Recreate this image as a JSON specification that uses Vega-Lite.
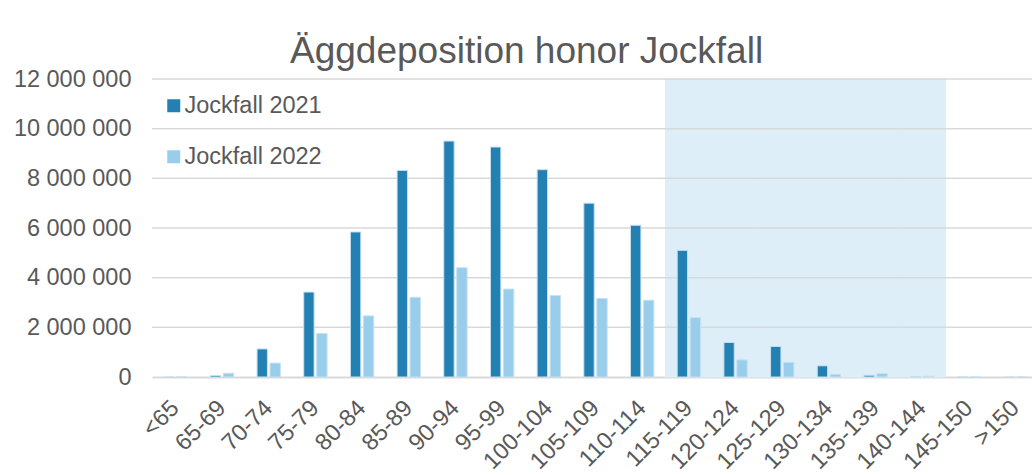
{
  "$schema": "https://vega.github.io/schema/vega-lite/v6.json",
  "width": 887,
  "height": 298,
  "padding": {"left": 13, "top": 33, "right": 0, "bottom": 0},
  "autosize": {"type": "pad"},
  "background": "white",
  "title": {
    "text": "Äggdeposition honor Jockfall",
    "fontSize": 37,
    "font": "Liberation Sans",
    "fontWeight": "normal",
    "color": "#595959",
    "anchor": "middle",
    "frame": "bounds",
    "offset": -4
  },
  "config": {
    "view": {"stroke": null},
    "font": "Liberation Sans",
    "axisX": {
      "title": null,
      "labelAngle": -45,
      "labelAlign": "right",
      "labelBaseline": "middle",
      "labelFontSize": 23.5,
      "labelFont": "Liberation Sans",
      "labelColor": "#595959",
      "labelPadding": 27,
      "labelOverlap": false,
      "ticks": false,
      "grid": false,
      "domainColor": "#d9d9d9",
      "domainWidth": 2,
      "zindex": 1
    },
    "axisY": {
      "title": null,
      "labelExpr": "replace(format(datum.value, ','), /,/g, ' ')",
      "grid": false,
      "ticks": false,
      "domain": false,
      "labelFontSize": 23.5,
      "labelFont": "Liberation Sans",
      "labelColor": "#595959",
      "labelPadding": 21
    }
  },
  "datasets": {
    "bars": [
      {"cat": "<65", "series": "Jockfall 2021", "value": 0},
      {"cat": "<65", "series": "Jockfall 2022", "value": 0},
      {"cat": "65-69", "series": "Jockfall 2021", "value": 60000},
      {"cat": "65-69", "series": "Jockfall 2022", "value": 150000},
      {"cat": "70-74", "series": "Jockfall 2021", "value": 1130000},
      {"cat": "70-74", "series": "Jockfall 2022", "value": 560000},
      {"cat": "75-79", "series": "Jockfall 2021", "value": 3420000},
      {"cat": "75-79", "series": "Jockfall 2022", "value": 1750000},
      {"cat": "80-84", "series": "Jockfall 2021", "value": 5840000},
      {"cat": "80-84", "series": "Jockfall 2022", "value": 2460000},
      {"cat": "85-89", "series": "Jockfall 2021", "value": 8320000},
      {"cat": "85-89", "series": "Jockfall 2022", "value": 3210000},
      {"cat": "90-94", "series": "Jockfall 2021", "value": 9500000},
      {"cat": "90-94", "series": "Jockfall 2022", "value": 4400000},
      {"cat": "95-99", "series": "Jockfall 2021", "value": 9260000},
      {"cat": "95-99", "series": "Jockfall 2022", "value": 3540000},
      {"cat": "100-104", "series": "Jockfall 2021", "value": 8350000},
      {"cat": "100-104", "series": "Jockfall 2022", "value": 3280000},
      {"cat": "105-109", "series": "Jockfall 2021", "value": 7000000},
      {"cat": "105-109", "series": "Jockfall 2022", "value": 3160000},
      {"cat": "110-114", "series": "Jockfall 2021", "value": 6110000},
      {"cat": "110-114", "series": "Jockfall 2022", "value": 3090000},
      {"cat": "115-119", "series": "Jockfall 2021", "value": 5100000},
      {"cat": "115-119", "series": "Jockfall 2022", "value": 2390000},
      {"cat": "120-124", "series": "Jockfall 2021", "value": 1390000},
      {"cat": "120-124", "series": "Jockfall 2022", "value": 690000},
      {"cat": "125-129", "series": "Jockfall 2021", "value": 1230000},
      {"cat": "125-129", "series": "Jockfall 2022", "value": 590000},
      {"cat": "130-134", "series": "Jockfall 2021", "value": 450000},
      {"cat": "130-134", "series": "Jockfall 2022", "value": 110000},
      {"cat": "135-139", "series": "Jockfall 2021", "value": 70000},
      {"cat": "135-139", "series": "Jockfall 2022", "value": 140000},
      {"cat": "140-144", "series": "Jockfall 2021", "value": 10000},
      {"cat": "140-144", "series": "Jockfall 2022", "value": 30000},
      {"cat": "145-150", "series": "Jockfall 2021", "value": 0},
      {"cat": "145-150", "series": "Jockfall 2022", "value": 0},
      {"cat": ">150", "series": "Jockfall 2021", "value": 0},
      {"cat": ">150", "series": "Jockfall 2022", "value": 0}
    ],
    "shade": [
      {"cat": "115-119"},
      {"cat": "120-124"},
      {"cat": "125-129"},
      {"cat": "130-134"},
      {"cat": "135-139"},
      {"cat": "140-144"}
    ],
    "grid": [
      {"v": 2000000},
      {"v": 4000000},
      {"v": 6000000},
      {"v": 8000000},
      {"v": 10000000},
      {"v": 12000000}
    ]
  },
  "layer": [
    {
      "data": {"name": "shade"},
      "mark": {"type": "rect", "color": "#ddeef8", "stroke": "#ddeef8", "strokeWidth": 1},
      "encoding": {
        "x": {
          "field": "cat",
          "type": "nominal",
          "title": null,
          "sort": null,
          "scale": {
            "domain": ["<65", "65-69", "70-74", "75-79", "80-84", "85-89", "90-94", "95-99", "100-104", "105-109", "110-114", "115-119", "120-124", "125-129", "130-134", "135-139", "140-144", "145-150", ">150"],
            "paddingInner": 0,
            "paddingOuter": 0
          }
        },
        "y": {"datum": 12000000, "type": "quantitative", "title": null, "axis": {"values": [0, 2000000, 4000000, 6000000, 8000000, 10000000, 12000000]}},
        "y2": {"datum": 0}
      }
    },
    {
      "data": {"name": "grid"},
      "mark": {"type": "rule", "color": "#d9d9d9", "strokeWidth": 1.5},
      "encoding": {
        "y": {"field": "v", "type": "quantitative", "title": null, "axis": {"values": [0, 2000000, 4000000, 6000000, 8000000, 10000000, 12000000]}}
      }
    },
    {
      "data": {"name": "bars"},
      "mark": {"type": "bar", "stroke": "#c6e0f0", "strokeWidth": 1},
      "encoding": {
        "x": {
          "field": "cat",
          "type": "nominal",
          "title": null,
          "sort": null,
          "scale": {
            "domain": ["<65", "65-69", "70-74", "75-79", "80-84", "85-89", "90-94", "95-99", "100-104", "105-109", "110-114", "115-119", "120-124", "125-129", "130-134", "135-139", "140-144", "145-150", ">150"],
            "paddingInner": 0,
            "paddingOuter": 0
          }
        },
        "xOffset": {
          "field": "series",
          "type": "nominal",
          "scale": {"paddingInner": 0.2, "paddingOuter": 0.9}
        },
        "y": {
          "field": "value",
          "type": "quantitative",
          "title": null,
          "scale": {"domain": [0, 12000000], "nice": false},
          "axis": {"values": [0, 2000000, 4000000, 6000000, 8000000, 10000000, 12000000]}
        },
        "color": {
          "field": "series",
          "type": "nominal",
          "scale": {"domain": ["Jockfall 2021", "Jockfall 2022"], "range": ["#2380b3", "#98cdeb"]},
          "legend": {
            "orient": "none",
            "legendX": 10,
            "legendY": 15,
            "title": null,
            "symbolType": "square",
            "symbolSize": 169,
            "symbolStrokeWidth": 0,
            "labelFontSize": 23.5,
            "labelFont": "Liberation Sans",
            "labelColor": "#595959",
            "rowPadding": 26,
            "labelOffset": -1,
            "padding": 0
          }
        }
      }
    }
  ]
}
